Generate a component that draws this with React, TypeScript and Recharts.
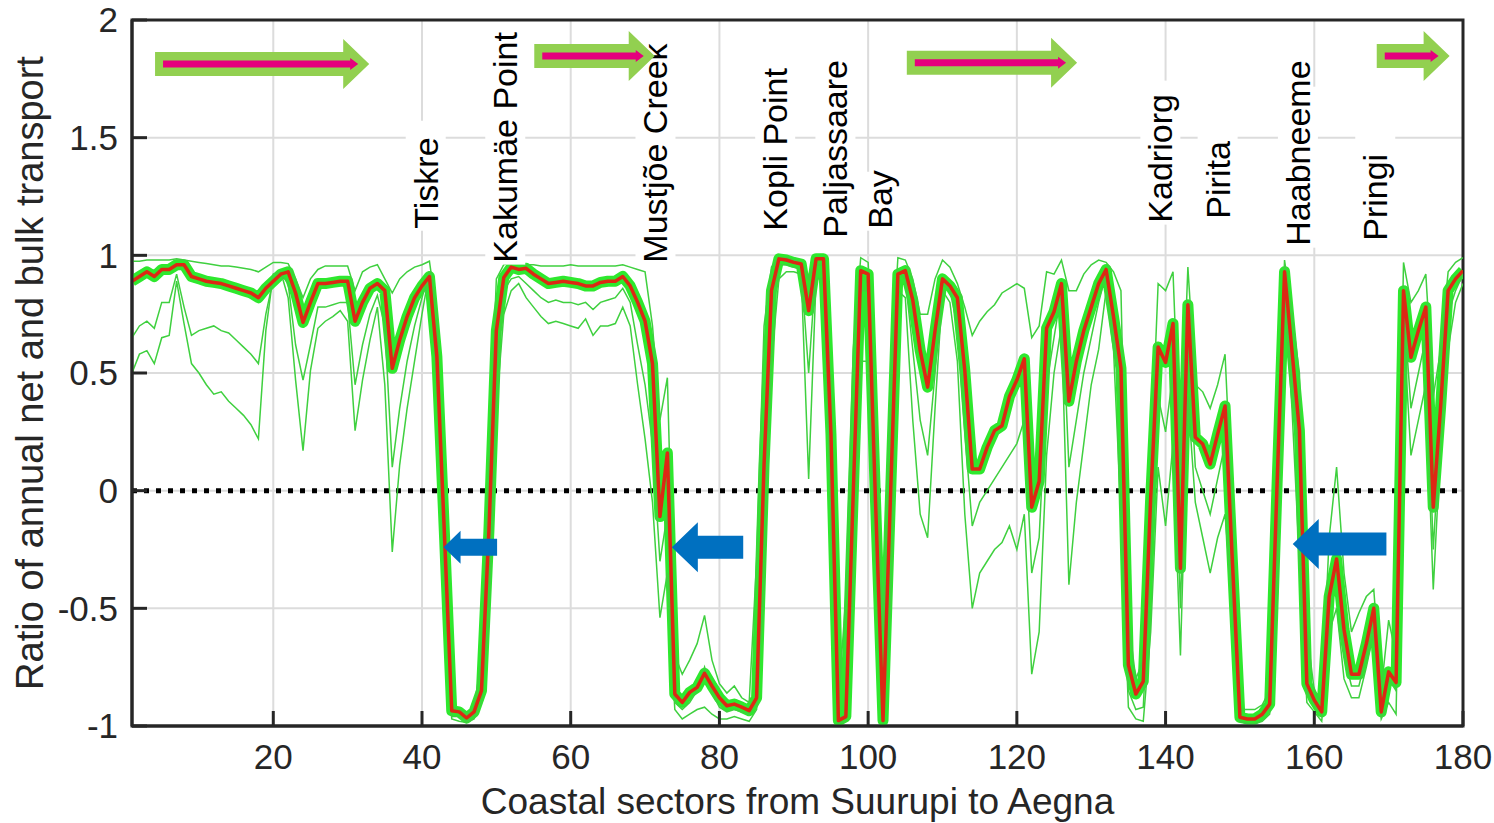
import React from "react";
import {
  LineChart,
  Line,
  XAxis,
  YAxis,
  CartesianGrid,
  ReferenceLine,
  ReferenceArea,
} from "recharts";

const FONT = '"Liberation Sans", Arial, Helvetica, sans-serif';

// coastal sectors 1..180
const sectors = Array.from({ length: 180 }, (_, i) => i + 1);

// red: the ratio for the chosen (reference) wind climate
const bestRatio = [
  0.89, 0.91, 0.93, 0.91, 0.94, 0.94, 0.96, 0.96, 0.91, 0.9,
  0.89, 0.885, 0.88, 0.87, 0.86, 0.85, 0.84, 0.82, 0.86, 0.89,
  0.92, 0.93, 0.84, 0.715, 0.8, 0.88, 0.88, 0.885, 0.89, 0.89,
  0.72, 0.8, 0.86, 0.88, 0.85, 0.52, 0.64, 0.74, 0.82, 0.87,
  0.91, 0.57, -0.17, -0.935, -0.94, -0.966, -0.94, -0.85, -0.17, 0.68,
  0.906, 0.95, 0.94, 0.945, 0.92, 0.9, 0.88, 0.885, 0.89, 0.885,
  0.88, 0.87, 0.87, 0.885, 0.89, 0.89, 0.91, 0.87, 0.8, 0.72,
  0.54, -0.11, 0.16, -0.864, -0.9, -0.857, -0.836, -0.776, -0.83, -0.88,
  -0.914, -0.907, -0.92, -0.935, -0.88, 0.11, 0.85, 0.985, 0.98, 0.97,
  0.963, 0.765, 0.985, 0.985, 0.24, -0.977, -0.96, -0.01, 0.935, 0.92,
  -0.05, -0.977, -0.03, 0.92, 0.935, 0.81, 0.595, 0.44, 0.68, 0.9,
  0.87, 0.82, 0.51, 0.092, 0.092, 0.184, 0.255, 0.276, 0.4, 0.47,
  0.56, -0.07, 0.04, 0.69, 0.76, 0.88, 0.38, 0.55, 0.68, 0.78,
  0.88, 0.94, 0.74, 0.52, -0.74, -0.864, -0.81, -0.03, 0.61, 0.545,
  0.71, -0.33, 0.79, 0.227, 0.198, 0.113, 0.24, 0.36, -0.31, -0.963,
  -0.97, -0.97, -0.95, -0.907, 0.03, 0.93, 0.595, 0.255, -0.82, -0.89,
  -0.94, -0.45, -0.29, -0.59, -0.78, -0.78, -0.65, -0.5, -0.94, -0.77,
  -0.815, 0.85, 0.567, 0.68, 0.78, -0.07, 0.36, 0.85, 0.9, 0.935,
];

// green: highest of the wind-climate variants
const upperRatio = [
  0.975, 0.975, 0.98, 0.98, 0.98, 0.98, 0.985, 0.98, 0.975, 0.97,
  0.965, 0.96, 0.955, 0.955, 0.95, 0.945, 0.94, 0.93, 0.95, 0.97,
  0.97, 0.965, 0.9, 0.82, 0.9, 0.94, 0.955, 0.955, 0.955, 0.955,
  0.85, 0.93, 0.95, 0.96, 0.9, 0.84, 0.9, 0.93, 0.95, 0.96,
  0.975, 0.75, -0.1, -0.92, -0.93, -0.95, -0.92, -0.72, 0.1, 0.9,
  0.96, 0.97, 0.965, 0.96, 0.96, 0.955, 0.955, 0.955, 0.955, 0.96,
  0.955, 0.955, 0.955, 0.955, 0.955, 0.955, 0.96, 0.95, 0.94, 0.93,
  0.7, 0.3, 0.48, -0.7, -0.78, -0.72, -0.65, -0.53, -0.72, -0.82,
  -0.86, -0.83, -0.88, -0.9, -0.3, 0.7, 0.95, 0.99, 0.99, 0.98,
  0.97, 0.9, 0.99, 0.99, 0.45, -0.9, -0.45, 0.6, 0.99, 0.97,
  0.3, -0.6, 0.45, 0.99, 0.98, 0.9, 0.75, 0.75, 0.9, 0.98,
  0.95, 0.88, 0.78, 0.66, 0.72, 0.76, 0.79, 0.84, 0.86, 0.88,
  0.86, 0.65, 0.7, 0.93, 0.92, 0.98, 0.85, 0.85, 0.92, 0.96,
  0.98, 0.97, 0.93, 0.85, -0.55, -0.8, -0.72, 0.1, 0.88, 0.85,
  0.93, 0.11, 0.95, 0.45, 0.42, 0.35, 0.45, 0.58, -0.1, -0.93,
  -0.93, -0.93, -0.91, -0.85, 0.15, 0.98, 0.75, 0.5, -0.6, -0.85,
  -0.9, -0.2, 0.1, -0.35, -0.6, -0.52, -0.45, -0.42, -0.85, -0.55,
  -0.7, 0.97, 0.8, 0.85, 0.92, 0.4, 0.6, 0.93, 0.97, 0.99,
];

// green: one of the lower variants
const midRatio = [
  0.65, 0.7, 0.72, 0.69, 0.8, 0.8, 0.92, 0.78, 0.66, 0.68,
  0.69, 0.7, 0.68, 0.67, 0.64, 0.61, 0.58, 0.54, 0.75, 0.9,
  0.92, 0.88, 0.62, 0.47, 0.62, 0.78, 0.78, 0.79, 0.8, 0.8,
  0.45, 0.62, 0.75, 0.83, 0.7, 0.1, 0.35, 0.55, 0.7, 0.82,
  0.93, 0.5, -0.3, -0.96, -0.96, -0.98, -0.95, -0.82, -0.35, 0.5,
  0.85, 0.9, 0.91, 0.88, 0.85, 0.82, 0.8, 0.81, 0.8, 0.8,
  0.79, 0.8, 0.77, 0.8, 0.81, 0.82, 0.86, 0.8, 0.62, 0.45,
  0.2, -0.3, -0.1, -0.9, -0.93, -0.9, -0.85, -0.75, -0.86, -0.92,
  -0.94, -0.93, -0.94, -0.95, -0.9, -0.1, 0.75, 0.96, 0.96, 0.95,
  0.94, 0.5, 0.96, 0.96, 0.15, -0.97, -0.95, 0.1, 0.85, 0.85,
  -0.1, -0.97, 0.0, 0.93, 0.9, 0.6, 0.3, 0.15, 0.5, 0.88,
  0.85, 0.7, 0.25, -0.15, -0.05, 0.0, 0.05, 0.1, 0.15, 0.2,
  0.3, -0.35, -0.2, 0.45, 0.65, 0.85, 0.1, 0.3, 0.5, 0.65,
  0.8, 0.92, 0.68, 0.3, -0.85, -0.93, -0.92, -0.3, 0.4, 0.25,
  0.5, -0.5, 0.65, 0.1, 0.0, -0.1, 0.05, 0.2, -0.4, -0.96,
  -0.97, -0.97, -0.96, -0.92, -0.2, 0.9, 0.5, 0.1, -0.85, -0.91,
  -0.95, -0.5, -0.3, -0.7, -0.83, -0.83, -0.7, -0.55, -0.95, -0.8,
  -0.85, 0.8, 0.35, 0.5, 0.65, -0.25, 0.3, 0.75, 0.85, 0.92,
];

// green: lowest of the wind-climate variants
const lowerRatio = [
  0.5, 0.58, 0.595, 0.54, 0.65, 0.66, 0.89, 0.71, 0.54, 0.5,
  0.45, 0.41, 0.42, 0.38, 0.35, 0.32, 0.28, 0.22, 0.68, 0.92,
  0.93, 0.82, 0.47, 0.17, 0.51, 0.69, 0.72, 0.74, 0.765, 0.72,
  0.255, 0.47, 0.64, 0.78, 0.45, -0.26, 0.11, 0.35, 0.55, 0.75,
  0.93, 0.45, -0.35, -0.97, -0.98, -0.985, -0.97, -0.9, -0.55, 0.35,
  0.75, 0.85, 0.88, 0.82, 0.78, 0.74, 0.71, 0.72, 0.71, 0.7,
  0.69, 0.73, 0.66, 0.7, 0.7, 0.71, 0.78, 0.7, 0.45, 0.22,
  -0.05, -0.54, -0.35, -0.93, -0.97, -0.95, -0.93, -0.92, -0.95, -0.97,
  -0.97, -0.96, -0.97, -0.98, -0.93, -0.4, 0.55, 0.9, 0.93, 0.93,
  0.92, 0.05, 0.9, 0.9, -0.1, -0.99, -0.98, -0.4, 0.55, 0.55,
  -0.3, -0.99, -0.5, 0.85, 0.82, 0.3, -0.1, -0.2, 0.35, 0.85,
  0.8, 0.55, -0.1, -0.5, -0.35, -0.3, -0.25, -0.22, -0.15, -0.25,
  -0.1, -0.78, -0.6, 0.15, 0.5, 0.7, -0.4, -0.05, 0.2, 0.45,
  0.6, 0.85, 0.6, -0.1, -0.92, -0.97, -0.98, -0.6, 0.1, -0.15,
  0.2, -0.7, 0.4, -0.05, -0.2, -0.35, -0.2, -0.1, -0.5, -0.98,
  -0.99, -0.99, -0.98, -0.95, -0.5, 0.85, 0.35, -0.3, -0.9, -0.94,
  -0.98, -0.6, -0.5, -0.8, -0.88, -0.88, -0.75, -0.6, -0.97, -0.9,
  -0.95, 0.7, 0.15, 0.3, 0.45, -0.42, 0.2, 0.6, 0.8, 0.88,
];

const xTicks = [20, 40, 60, 80, 100, 120, 140, 160, 180];
const yTicks = [-1, -0.5, 0, 0.5, 1, 1.5, 2];

// place names (x = sector, y = ratio where the vertical text starts)
const places = [
  { name: "Tiskre", x: 40.5, y: 1.113 },
  { name: "Kakumäe Point", x: 51.2, y: 0.969 },
  { name: "Mustjõe Creek", x: 71.4, y: 0.969 },
  { name: "Kopli Point", x: 87.5, y: 1.105 },
  { name: "Paljassaare", x: 95.6, y: 1.075 },
  { name: "Bay", x: 101.6, y: 1.113 },
  { name: "Kadriorg", x: 139.3, y: 1.139 },
  { name: "Pirita", x: 147.0, y: 1.156 },
  { name: "Haabneeme", x: 157.8, y: 1.041 },
  { name: "Pringi", x: 168.2, y: 1.062 },
];

// eastward transport arrows (green) and westward ones (blue)
const eastArrows = [
  { from: 4.1, to: 32.9, y: 1.813 },
  { from: 55.1, to: 71.3, y: 1.847 },
  { from: 105.2, to: 128.1, y: 1.818 },
  { from: 168.4, to: 178.2, y: 1.847 },
];
const westArrows = [
  { from: 50.1, to: 42.9, y: -0.24, small: true },
  { from: 83.2, to: 73.6, y: -0.24, small: false },
  { from: 169.7, to: 157.1, y: -0.227, small: false },
];

const data = sectors.map((s, i) => ({
  sector: s,
  best: bestRatio[i],
  upper: upperRatio[i],
  mid: midRatio[i],
  lower: lowerRatio[i],
}));

const GREEN_ARROW = "#92d050";
const MAGENTA = "#e5007d";
const BLUE = "#0070c0";

function EastArrow(props: any) {
  const { x1, y1, x2 } = props;
  const body = 24;
  const head = 50;
  const headLen = 26;
  const base = x2 - headLen;
  const pts = [
    [x1, y1 - body / 2],
    [base, y1 - body / 2],
    [base, y1 - head / 2],
    [x2, y1],
    [base, y1 + head / 2],
    [base, y1 + body / 2],
    [x1, y1 + body / 2],
  ];
  const mEnd = x2 - 11;
  const mPts = [
    [x1 + 8, y1 - 3.5],
    [mEnd - 8, y1 - 3.5],
    [mEnd - 8, y1 - 6],
    [mEnd, y1],
    [mEnd - 8, y1 + 6],
    [mEnd - 8, y1 + 3.5],
    [x1 + 8, y1 + 3.5],
  ];
  return (
    <g>
      <polygon points={pts.map((p) => p.join(",")).join(" ")} fill={GREEN_ARROW} />
      <polygon points={mPts.map((p) => p.join(",")).join(" ")} fill={MAGENTA} />
    </g>
  );
}

function westArrowShape(small: boolean) {
  return (props: any) => {
    const { x1, y1, x2 } = props;
    const body = small ? 17 : 23;
    const head = small ? 33 : 50;
    const headLen = small ? 17 : 26;
    const base = x2 + headLen;
    const pts = [
      [x1, y1 - body / 2],
      [base, y1 - body / 2],
      [base, y1 - head / 2],
      [x2, y1],
      [base, y1 + head / 2],
      [base, y1 + body / 2],
      [x1, y1 + body / 2],
    ];
    return <polygon points={pts.map((p) => p.join(",")).join(" ")} fill={BLUE} />;
  };
}

// vertical place name, drawn from the segment's first point upwards
function placeShape(name: string) {
  return (props: any) => {
    const cx = props.x1;
    const cy = props.y1;
    const fs = 34;
    const len = name.length * fs * 0.5;
    return (
      <g>
        <rect x={cx - 20} y={cy - len - 6} width={40} height={len + 8} fill="#fff" />
        <text
          x={cx}
          y={cy}
          transform={`rotate(-90, ${cx}, ${cy})`}
          textAnchor="start"
          dominantBaseline="central"
          fontSize={fs}
          fontFamily={FONT}
          fill="#000"
        >
          {name}
        </text>
      </g>
    );
  };
}

const axisColor = "#262626";

export default function App() {
  return (
    <div
      style={{
        position: "absolute",
        left: 0,
        top: 0,
        width: 1494,
        height: 823,
        fontFamily: FONT,
        background: "#fff",
      }}
    >
      <LineChart
        width={1494}
        height={823}
        data={data}
        margin={{ top: 20, right: 31, bottom: 0, left: 0 }}
      >
        <CartesianGrid stroke="#dcdcdc" strokeWidth={2} />
        <XAxis
          dataKey="sector"
          type="number"
          domain={[1, 180]}
          ticks={xTicks}
          allowDataOverflow
          height={97}
          tickSize={-15}
          tickMargin={33}
          tick={{ fontSize: 35, fill: axisColor, fontFamily: FONT }}
          axisLine={{ stroke: axisColor, strokeWidth: 3 }}
          tickLine={{ stroke: axisColor, strokeWidth: 3 }}
          label={{
            content: (p: any) => {
              const vb = p && p.viewBox ? p.viewBox : { x: 132, y: 726, width: 1331, height: 97 };
              return (
                <text
                  x={vb.x + vb.width / 2}
                  y={vb.y + vb.height - 9}
                  textAnchor="middle"
                  fontSize={37}
                  fontFamily={FONT}
                  fill={axisColor}
                >
                  Coastal sectors from Suurupi to Aegna
                </text>
              );
            },
          }}
        />
        <YAxis
          type="number"
          domain={[-1, 2]}
          ticks={yTicks}
          allowDataOverflow
          width={132}
          tickSize={-15}
          tickMargin={29}
          tick={{ fontSize: 35, fill: axisColor, fontFamily: FONT }}
          axisLine={{ stroke: axisColor, strokeWidth: 3 }}
          tickLine={{ stroke: axisColor, strokeWidth: 3 }}
          label={{
            content: (p: any) => {
              const vb = p && p.viewBox ? p.viewBox : { x: 0, y: 20, width: 132, height: 706 };
              const cy = vb.y + vb.height / 2;
              return (
                <text
                  x={30}
                  y={cy}
                  transform={`rotate(-90, 30, ${cy})`}
                  textAnchor="middle"
                  dominantBaseline="central"
                  fontSize={38}
                  fontFamily={FONT}
                  fill={axisColor}
                >
                  Ratio of annual net and bulk transport
                </text>
              );
            },
          }}
        />
        <ReferenceLine y={0} stroke="#000" strokeWidth={5} strokeDasharray="5 7" />
        <Line
          dataKey="best"
          stroke="#2ee82e"
          strokeWidth={11}
          strokeLinejoin="round"
          dot={false}
          activeDot={false}
          isAnimationActive={false}
        />
        <Line dataKey="lower" stroke="#3fd03f" strokeWidth={1.5} dot={false} activeDot={false} isAnimationActive={false} />
        <Line dataKey="mid" stroke="#3fd03f" strokeWidth={1.5} dot={false} activeDot={false} isAnimationActive={false} />
        <Line dataKey="upper" stroke="#3fd03f" strokeWidth={1.5} dot={false} activeDot={false} isAnimationActive={false} />
        <Line
          dataKey="best"
          stroke="#dd2814"
          strokeWidth={3.5}
          strokeLinejoin="round"
          dot={false}
          activeDot={false}
          isAnimationActive={false}
        />
        {places.map((p) => (
          <ReferenceLine
            key={p.name}
            segment={[
              { x: p.x, y: p.y },
              { x: p.x, y: p.y + 0.01 },
            ]}
            shape={placeShape(p.name)}
            ifOverflow="visible"
          />
        ))}
        {eastArrows.map((a, i) => (
          <ReferenceLine
            key={"e" + i}
            segment={[
              { x: a.from, y: a.y },
              { x: a.to, y: a.y },
            ]}
            shape={EastArrow}
            ifOverflow="visible"
          />
        ))}
        {westArrows.map((a, i) => (
          <ReferenceLine
            key={"w" + i}
            segment={[
              { x: a.from, y: a.y },
              { x: a.to, y: a.y },
            ]}
            shape={westArrowShape(a.small)}
            ifOverflow="visible"
          />
        ))}
        <ReferenceArea
          x1={1}
          x2={180}
          y1={-1}
          y2={2}
          fill="none"
          fillOpacity={0}
          stroke={axisColor}
          strokeWidth={3}
          ifOverflow="visible"
        />
      </LineChart>
    </div>
  );
}
